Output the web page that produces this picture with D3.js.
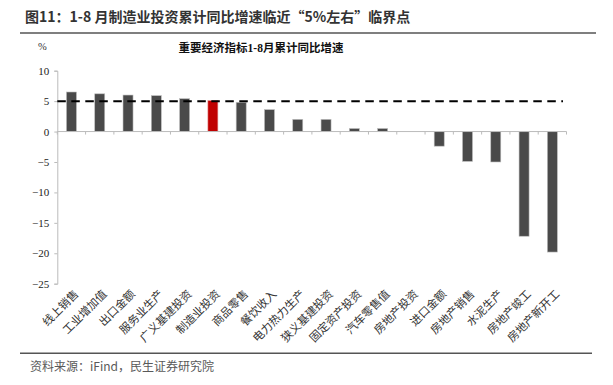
<!DOCTYPE html>
<html><head><meta charset="utf-8">
<script src="https://cdn.jsdelivr.net/npm/d3@7"></script>
<style>body{margin:0;background:#fff}svg{display:block}</style>
</head><body>
<script>
const categories = ["线上销售","工业增加值","出口金额","服务业生产","广义基建投资","制造业投资","商品零售","餐饮收入","电力热力生产","狭义基建投资","固定资产投资","汽车零售值","房地产投资","进口金额","房地产销售","水泥生产","房地产竣工","房地产新开工"];
const values = [6.5, 6.2, 6.0, 5.9, 5.4, 5.1, 4.8, 3.6, 2.0, 2.0, 0.5, 0.5, null, -2.4, -4.9, -5.0, -17.2, -19.8];
const highlight = ["制造业投资"];
const refValue = 5;
const yTicks = [10, 5, 0, -5, -10, -15, -20, -25];
const mainTitle = "图11：1-8 月制造业投资累计同比增速临近“5%左右”临界点";
const chartTitle = "重要经济指标1-8月累计同比增速";
const unitLabel = "%";
const sourceText = "资料来源：iFind，民生证券研究院";

const W = 613, H = 385;
const svg = d3.select("body").append("svg").attr("width", W).attr("height", H);

// Header
svg.append("text").attr("x", 25).attr("y", 22)
  .attr("font-family", "'Noto Sans CJK SC', sans-serif").attr("font-weight", "bold")
  .attr("font-size", 14).attr("fill", "#333").text(mainTitle);
svg.append("line").attr("x1", 20).attr("x2", 596).attr("y1", 33).attr("y2", 33)
  .attr("stroke", "#555").attr("stroke-width", 1.5);

// Chart title
svg.append("text").attr("x", 261).attr("y", 52).attr("text-anchor", "middle")
  .attr("font-family", "'Liberation Serif', 'Noto Sans CJK SC', serif").attr("font-weight", "bold")
  .attr("font-size", 11.5).attr("fill", "#111").text(chartTitle);
svg.append("text").attr("x", 38).attr("y", 50)
  .attr("font-family", "'Liberation Serif', serif").attr("font-size", 10.5).attr("fill", "#333").text(unitLabel);

const x = d3.scaleBand().domain(categories).range([57.3, 566.5]).paddingInner(0.646).paddingOuter(0.323);
const y = d3.scaleLinear().domain([-25, 10]).range([283.7, 70.7]);

// Y axis
const yAxis = d3.axisLeft(y).tickValues(yTicks).tickSize(3).tickPadding(5).tickFormat(d3.format("d"));
const gy = svg.append("g").attr("transform", "translate(57.3,0)").call(yAxis);
gy.select(".domain").attr("stroke", "#bbb");
gy.selectAll(".tick line").attr("stroke", "#bbb");
gy.selectAll(".tick text").attr("font-family", "'Liberation Serif', serif").attr("font-size", 11).attr("fill", "#222");

// Bars
svg.append("g").selectAll("rect").data(categories.map((c, i) => ({c, v: values[i]})).filter(d => d.v !== null))
  .join("rect")
  .attr("x", d => x(d.c)).attr("width", x.bandwidth())
  .attr("y", d => y(Math.max(0, d.v))).attr("height", d => Math.abs(y(d.v) - y(0)))
  .attr("fill", d => highlight.includes(d.c) ? "#c00000" : "#4a4a4a")
  .attr("stroke", d => highlight.includes(d.c) ? "#e8a0a0" : "#bdbdbd").attr("stroke-width", 0.6);

// X axis at zero
const step = x.step();
const x0 = x.range()[0];
const bounds = d3.range(categories.length + 1).map(i => x0 + i * step);
svg.append("line").attr("x1", x.range()[0]).attr("x2", x.range()[1]).attr("y1", y(0)).attr("y2", y(0))
  .attr("stroke", "#bbb").attr("stroke-width", 1);
svg.append("g").selectAll("line").data(bounds).join("line")
  .attr("x1", d => d).attr("x2", d => d).attr("y1", y(0)).attr("y2", y(0) + 3)
  .attr("stroke", "#bbb");

// Reference dashed line
svg.append("line").attr("x1", x.range()[0]).attr("x2", 563).attr("y1", y(refValue)).attr("y2", y(refValue))
  .attr("stroke", "#000").attr("stroke-width", 2).attr("stroke-dasharray", "8.5,5.5");

// Category labels
svg.append("g").selectAll("text").data(categories).join("text")
  .attr("transform", d => `translate(${x(d) + x.bandwidth() / 2 + 5},${292}) rotate(-45)`)
  .attr("text-anchor", "end").attr("dy", "0.35em")
  .attr("font-family", "'Noto Sans CJK SC', serif").attr("font-size", 11.3).attr("fill", "#333")
  .text(d => d);

// Footer
svg.append("line").attr("x1", 20).attr("x2", 592).attr("y1", 353.3).attr("y2", 353.3)
  .attr("stroke", "#555").attr("stroke-width", 1.5);
svg.append("text").attr("x", 30).attr("y", 371)
  .attr("font-family", "'Noto Sans CJK SC', sans-serif").attr("font-size", 12).attr("fill", "#595959").text(sourceText);
</script>
</body></html>
